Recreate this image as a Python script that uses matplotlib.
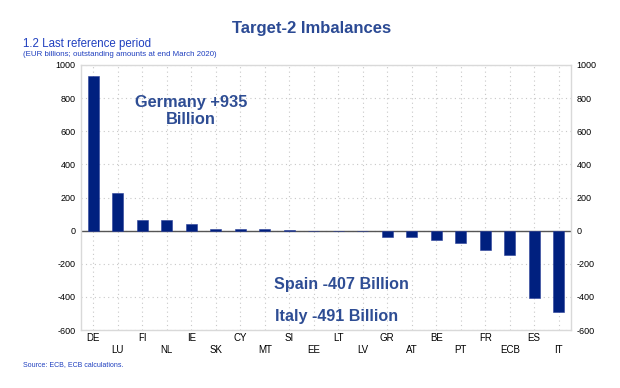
import matplotlib
matplotlib.use("Agg")
import matplotlib.pyplot as plt
import numpy as np

plt.rcParams['font.family'] = ['Liberation Sans', 'DejaVu Sans']

categories = ["DE", "LU", "FI", "NL", "IE", "SK", "CY", "MT", "SI", "EE",
              "LT", "LV", "GR", "AT", "BE", "PT", "FR", "ECB", "ES", "IT"]
values = [935, 225, 65, 65, 37, 12, 8, 7, 6, -3,
          -3, -4, -38, -40, -57, -76, -114, -147, -407, -491]
yticks = [-600, -400, -200, 0, 200, 400, 600, 800, 1000]

fig = plt.figure(figsize=(6.2, 3.88), dpi=100)
ax = fig.add_axes([81/620, 1-330/388, 490/620, 265/388])

x = np.arange(len(categories))
ax.axhline(0, color="#555555", linewidth=1.0, zorder=2)
ax.bar(x, values, width=0.44, color="#00207F", edgecolor="#2A3F9A", linewidth=0.4, zorder=3)

ax.set_xlim(-0.5, len(categories) - 0.5)
ax.set_ylim(-600, 1000)
ax.set_yticks(yticks)
ax.set_yticklabels([str(v) for v in yticks], fontsize=6.5)
ax.set_xticks(x)
labels = [c if i % 2 == 0 else "\n" + c for i, c in enumerate(categories)]
ax.set_xticklabels(labels, fontsize=7, linespacing=1.25)
ax.tick_params(axis='x', length=0, pad=2)
ax.tick_params(axis='y', length=0, pad=4, labelright=True, right=False)

ax.grid(True, which='major', color="#c8c8c8", linestyle=(0, (1, 3)), linewidth=0.8, zorder=0)
for s in ax.spines.values():
    s.set_color("#d9d9d9")
    s.set_linewidth(1.0)

fig.text(312/620, 1-29/388, "Target-2 Imbalances", ha='center', va='center',
         fontsize=12, fontweight='bold', color="#2B4A94")
fig.text(23/620, 1-44/388, "1.2 Last reference period", ha='left', va='center',
         fontsize=8.3, color="#1F3FBF")
fig.text(23/620, 1-54/388, "(EUR billions; outstanding amounts at end March 2020)", ha='left', va='center',
         fontsize=5.7, color="#1F3FBF")
fig.text(23/620, 1-365/388, "Source: ECB, ECB calculations.", ha='left', va='center',
         fontsize=5, color="#1F3FBF")

ann_color = "#2E4D94"
fig.text(191/620, 1-111/388, "Germany +935\nBillion", ha='center', va='center',
         fontsize=11.8, fontweight='bold', color=ann_color, linespacing=1.15)
fig.text(341/620, 1-284/388, "Spain -407 Billion", ha='center', va='center',
         fontsize=11.6, fontweight='bold', color=ann_color)
fig.text(337/620, 1-316/388, "Italy -491 Billion", ha='center', va='center',
         fontsize=11.6, fontweight='bold', color=ann_color)

fig.savefig("out.png", dpi=100)
